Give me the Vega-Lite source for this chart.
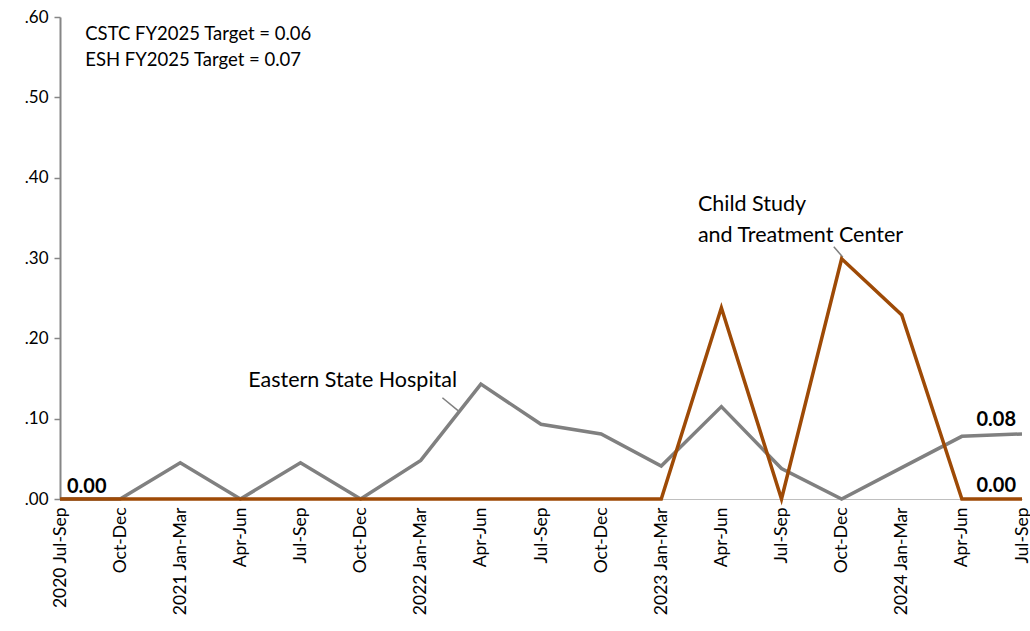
{
  "$schema": "https://vega.github.io/schema/vega-lite/v6.json",
  "width": 962,
  "height": 482,
  "autosize": {"type": "none"},
  "padding": {"left": 60, "top": 17, "right": 8, "bottom": 132},
  "background": "white",
  "config": {"view": {"stroke": null}, "font": "Lato"},
  "datasets": {
    "series": [
      {"idx": 0, "period": "2020 Jul-Sep", "series": "ESH", "value": 0},
      {"idx": 1, "period": "2020 Oct-Dec", "series": "ESH", "value": 0},
      {"idx": 2, "period": "2021 Jan-Mar", "series": "ESH", "value": 0.045},
      {"idx": 3, "period": "2021 Apr-Jun", "series": "ESH", "value": 0},
      {"idx": 4, "period": "2021 Jul-Sep", "series": "ESH", "value": 0.045},
      {"idx": 5, "period": "2021 Oct-Dec", "series": "ESH", "value": 0},
      {"idx": 6, "period": "2022 Jan-Mar", "series": "ESH", "value": 0.048},
      {"idx": 7, "period": "2022 Apr-Jun", "series": "ESH", "value": 0.143},
      {"idx": 8, "period": "2022 Jul-Sep", "series": "ESH", "value": 0.093},
      {"idx": 9, "period": "2022 Oct-Dec", "series": "ESH", "value": 0.081},
      {"idx": 10, "period": "2023 Jan-Mar", "series": "ESH", "value": 0.041},
      {"idx": 11, "period": "2023 Apr-Jun", "series": "ESH", "value": 0.115},
      {"idx": 12, "period": "2023 Jul-Sep", "series": "ESH", "value": 0.038},
      {"idx": 13, "period": "2023 Oct-Dec", "series": "ESH", "value": 0},
      {"idx": 14, "period": "2024 Jan-Mar", "series": "ESH", "value": 0.039},
      {"idx": 15, "period": "2024 Apr-Jun", "series": "ESH", "value": 0.078},
      {"idx": 16, "period": "2024 Jul-Sep", "series": "ESH", "value": 0.081},
      {"idx": 0, "period": "2020 Jul-Sep", "series": "CSTC", "value": 0},
      {"idx": 1, "period": "2020 Oct-Dec", "series": "CSTC", "value": 0},
      {"idx": 2, "period": "2021 Jan-Mar", "series": "CSTC", "value": 0},
      {"idx": 3, "period": "2021 Apr-Jun", "series": "CSTC", "value": 0},
      {"idx": 4, "period": "2021 Jul-Sep", "series": "CSTC", "value": 0},
      {"idx": 5, "period": "2021 Oct-Dec", "series": "CSTC", "value": 0},
      {"idx": 6, "period": "2022 Jan-Mar", "series": "CSTC", "value": 0},
      {"idx": 7, "period": "2022 Apr-Jun", "series": "CSTC", "value": 0},
      {"idx": 8, "period": "2022 Jul-Sep", "series": "CSTC", "value": 0},
      {"idx": 9, "period": "2022 Oct-Dec", "series": "CSTC", "value": 0},
      {"idx": 10, "period": "2023 Jan-Mar", "series": "CSTC", "value": 0},
      {"idx": 11, "period": "2023 Apr-Jun", "series": "CSTC", "value": 0.238},
      {"idx": 12, "period": "2023 Jul-Sep", "series": "CSTC", "value": 0},
      {"idx": 13, "period": "2023 Oct-Dec", "series": "CSTC", "value": 0.299},
      {"idx": 14, "period": "2024 Jan-Mar", "series": "CSTC", "value": 0.229},
      {"idx": 15, "period": "2024 Apr-Jun", "series": "CSTC", "value": 0},
      {"idx": 16, "period": "2024 Jul-Sep", "series": "CSTC", "value": 0}
    ],
    "leaders": [
      {"seg": "ESH", "x": 6.36, "y": 0.126, "x2": 6.62, "y2": 0.110},
      {"seg": "CSTC", "x": 12.87, "y": 0.314, "x2": 13.02, "y2": 0.301}
    ],
    "valueLabels": [
      {"idx": 0, "value": 0.0, "label": "0.00", "align": "left"},
      {"idx": 16, "value": 0.082, "label": "0.08", "align": "right"},
      {"idx": 16, "value": 0.0, "label": "0.00", "align": "right"}
    ]
  },
  "encoding": {
    "x": {
      "field": "idx", "type": "quantitative",
      "scale": {"domain": [0, 16], "nice": false, "zero": false},
      "axis": {
        "title": null,
        "values": [0,1,2,3,4,5,6,7,8,9,10,11,12,13,14,15,16],
        "labelExpr": "['2020 Jul-Sep','Oct-Dec','2021 Jan-Mar','Apr-Jun','Jul-Sep','Oct-Dec','2022 Jan-Mar','Apr-Jun','Jul-Sep','Oct-Dec','2023 Jan-Mar','Apr-Jun','Jul-Sep','Oct-Dec','2024 Jan-Mar','Apr-Jun','Jul-Sep'][datum.value]",
        "labelAngle": -90,
        "labelAlign": "right",
        "labelBaseline": "middle",
        "labelFontSize": 17.5,
        "labelColor": "#000000",
        "labelPadding": 8,
        "labelOverlap": false,
        "labelBound": false,
        "labelFlush": false,
        "ticks": false,
        "domainColor": "#BFBFBF",
        "domainWidth": 1,
        "grid": false
      }
    },
    "y": {
      "field": "value", "type": "quantitative",
      "scale": {"domain": [0, 0.6], "nice": false},
      "axis": {
        "title": null,
        "values": [0, 0.1, 0.2, 0.3, 0.4, 0.5, 0.6],
        "labelExpr": "substring(format(datum.value, '.2f'), 1)",
        "labelFontSize": 17,
        "labelColor": "#000000",
        "labelPadding": 6,
        "tickColor": "#868686",
        "tickSize": 6,
        "tickWidth": 1.5,
        "domainColor": "#868686",
        "domainWidth": 2,
        "grid": false
      }
    }
  },
  "layer": [
    {
      "data": {"name": "leaders"},
      "mark": {"type": "rule", "color": "#7F7F7F", "strokeWidth": 1.5},
      "encoding": {
        "x": {"field": "x", "type": "quantitative"},
        "y": {"field": "y", "type": "quantitative"},
        "x2": {"field": "x2"},
        "y2": {"field": "y2"}
      }
    },
    {
      "data": {"name": "series"},
      "transform": [{"filter": "datum.series == 'ESH'"}],
      "mark": {"type": "line", "color": "#808080", "strokeWidth": 3.5},
      "encoding": {}
    },
    {
      "data": {"name": "series"},
      "transform": [{"filter": "datum.series == 'CSTC'"}],
      "mark": {"type": "line", "color": "#9E4A06", "strokeWidth": 3.5, "strokeJoin": "miter"},
      "encoding": {}
    },
    {
      "data": {"name": "valueLabels"},
      "transform": [{"filter": "datum.align == 'left'"}],
      "mark": {"type": "text", "align": "left", "baseline": "bottom", "dx": 7, "dy": -2, "fontSize": 20, "fontWeight": "bold", "color": "#000000"},
      "encoding": {"text": {"field": "label"}}
    },
    {
      "data": {"name": "valueLabels"},
      "transform": [{"filter": "datum.align == 'right'"}],
      "mark": {"type": "text", "align": "right", "baseline": "bottom", "dx": -6, "dy": -3, "fontSize": 20, "fontWeight": "bold", "color": "#000000"},
      "encoding": {"text": {"field": "label"}}
    },
    {
      "data": {"values": [
        {"idx": 0.42, "value": 0.579, "text": "CSTC FY2025 Target = 0.06"},
        {"idx": 0.42, "value": 0.547, "text": "ESH FY2025 Target = 0.07"}
      ]},
      "mark": {"type": "text", "align": "left", "baseline": "middle", "fontSize": 18.5, "color": "#000000"},
      "encoding": {"text": {"field": "text"}}
    },
    {
      "data": {"values": [
        {"idx": 3.13, "value": 0.147, "text": "Eastern State Hospital"},
        {"idx": 10.61, "value": 0.366, "text": "Child Study"},
        {"idx": 10.61, "value": 0.328, "text": "and Treatment Center"}
      ]},
      "mark": {"type": "text", "align": "left", "baseline": "middle", "fontSize": 21.5, "color": "#000000"},
      "encoding": {"text": {"field": "text"}}
    }
  ]
}
